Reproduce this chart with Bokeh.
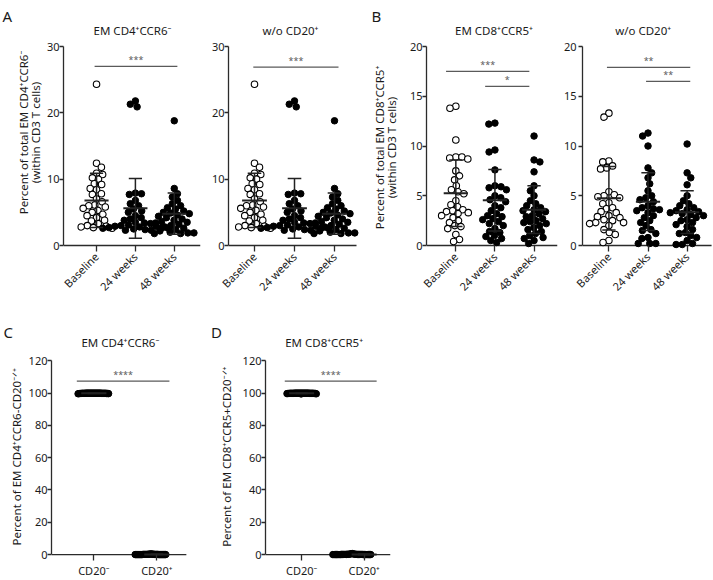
import math
from bokeh.plotting import figure
from bokeh.models import Range1d, FixedTicker, Label, ColumnDataSource
from bokeh.layouts import row, column
from bokeh.embed import file_html
from bokeh.resources import INLINE

FONT = "Noto Sans"
AXC = "#2b2b2b"
TXT = "#1a1a1a"
SIGC = "#5a5a5a"
TICK = 6

# ---------------- data ----------------
weeks = ["Baseline", "24 weeks", "48 weeks"]
cd20 = ["CD20\u207b", "CD20\u207a"]

a1_base = [24.3, 12.4, 11.8, 10.9, 10.7, 10.2, 10.0, 9.3, 9.2, 8.6, 8.4, 7.8, 7.7, 7.0, 6.6, 6.1,
           6.0, 5.8, 5.6, 5.3, 5.0, 4.7, 4.5, 4.2, 3.8, 3.7, 3.3, 3.0, 2.9, 2.8, 2.7, 2.6]
a1_w24 = [21.8, 21.3, 20.9, 7.9, 7.8, 7.7, 6.8, 6.3, 6.0, 5.5, 5.2, 5.0, 4.5, 4.2, 4.0, 3.8,
          3.4, 3.3, 3.1, 3.0, 2.9, 2.8, 2.7, 2.6, 2.6, 2.5, 2.4, 2.3, 2.3, 2.7, 2.9, 3.5]
a1_w48 = [18.8, 8.6, 7.8, 7.3, 6.8, 6.3, 6.0, 5.7, 5.5, 5.2, 5.0, 4.9, 4.8, 4.6, 4.4, 4.2,
          4.0, 3.8, 3.6, 3.5, 3.4, 3.2, 3.0, 2.8, 2.6, 2.4, 2.2, 2.0, 1.9, 1.8, 1.8, 1.9]
a1_mean = [6.8, 5.6, 4.8]
a1_sd = [4.1, 4.5, 3.1]

a2_base = [24.3, 12.4, 11.8, 10.9, 10.7, 10.2, 10.0, 9.3, 9.2, 8.6, 8.4, 7.8, 7.7, 7.0, 6.6, 6.1,
           6.0, 5.8, 5.6, 5.3, 5.0, 4.7, 4.5, 4.2, 3.8, 3.7, 3.3, 3.0, 2.9, 2.8, 2.7, 2.6]
a2_w24 = [21.8, 21.3, 20.9, 7.9, 7.8, 7.7, 6.8, 6.3, 6.0, 5.5, 5.2, 5.0, 4.5, 4.2, 4.0, 3.8,
          3.4, 3.3, 3.1, 3.0, 2.9, 2.8, 2.7, 2.6, 2.6, 2.5, 2.4, 2.3, 2.3, 2.7, 2.9, 3.5]
a2_w48 = [18.8, 8.6, 7.8, 7.3, 6.8, 6.3, 6.0, 5.7, 5.5, 5.2, 5.0, 4.9, 4.8, 4.6, 4.4, 4.2,
          4.0, 3.8, 3.6, 3.5, 3.4, 3.2, 3.0, 2.8, 2.6, 2.4, 2.2, 2.0, 1.9, 1.8, 1.8, 1.9]
a2_mean = [6.8, 5.6, 4.8]
a2_sd = [4.1, 4.5, 3.1]

b1_base = [14.0, 13.8, 10.6, 8.9, 8.9, 8.8, 8.7, 7.5, 7.0, 6.6, 6.0, 5.6, 5.4, 5.2, 4.5, 4.1,
           3.9, 3.6, 3.5, 3.4, 3.3, 3.2, 3.0, 2.8, 2.5, 2.3, 2.0, 1.9, 1.7, 1.1, 0.6, 0.4]
b1_w24 = [12.3, 12.2, 9.6, 9.4, 7.6, 6.0, 5.9, 5.8, 5.6, 5.0, 4.8, 4.6, 4.4, 4.0, 3.8, 3.5,
          3.2, 3.0, 2.9, 2.7, 2.6, 2.4, 2.2, 2.0, 1.7, 1.4, 1.3, 1.0, 0.9, 0.7, 0.5, 0.3]
b1_w48 = [11.0, 8.6, 8.4, 7.4, 6.0, 5.5, 5.0, 4.5, 4.2, 4.0, 3.8, 3.6, 3.5, 3.4, 3.2, 3.0,
          2.9, 2.7, 2.5, 2.4, 2.3, 2.2, 2.0, 1.8, 1.6, 1.4, 1.2, 1.0, 0.8, 0.7, 0.5, 0.2]
b1_mean = [5.25, 4.55, 3.6]
b1_sd = [3.35, 3.1, 2.4]

b2_base = [13.3, 12.9, 8.5, 8.4, 8.0, 7.8, 7.7, 5.4, 5.1, 5.0, 4.9, 4.8, 4.3, 4.2, 3.8, 3.7,
           3.4, 3.3, 3.0, 2.9, 2.8, 2.6, 2.5, 2.3, 2.3, 2.2, 2.0, 1.6, 1.3, 1.1, 0.5, 0.3]
b2_w24 = [11.3, 11.0, 10.0, 7.8, 7.3, 6.8, 6.2, 5.5, 5.0, 4.8, 4.6, 4.4, 4.0, 3.8, 3.7, 3.6,
          3.5, 3.3, 3.0, 2.8, 2.5, 2.3, 2.0, 1.6, 1.5, 1.2, 0.8, 0.7, 0.2, 0.2, 0.2]
b2_w48 = [10.2, 7.3, 6.8, 6.1, 5.0, 4.5, 4.2, 4.0, 3.8, 3.6, 3.5, 3.4, 3.3, 3.2, 3.1, 3.0,
          2.8, 2.6, 2.5, 2.3, 2.1, 1.9, 1.6, 1.3, 1.2, 1.0, 0.8, 0.5, 0.2, 0.1, 0.1]
b2_mean = [4.75, 4.4, 3.35]
b2_sd = [3.2, 2.9, 2.15]

c_neg = [100.0, 100.0, 99.9, 100.0, 99.8, 100.0, 99.9, 100.0, 99.7, 100.0, 99.9, 100.0, 99.8, 100.0, 99.9, 99.6,
         100.0, 99.9, 100.0, 99.8, 100.0, 99.9, 100.0, 99.7, 100.0, 99.9, 100.0, 99.8, 99.9, 100.0, 99.9, 100.0]
c_pos = [0.0, 0.0, 0.1, 0.0, 0.2, 0.0, 0.1, 0.0, 0.3, 0.0, 0.1, 0.0, 0.2, 0.0, 0.1, 0.4,
         0.0, 0.1, 0.0, 0.2, 0.0, 0.1, 0.0, 0.3, 0.0, 0.1, 0.0, 0.2, 0.1, 0.0, 0.1, 0.0]
c_mean = [99.9, 0.1]
c_sd = [0.1, 0.1]

d_neg = [100.0, 99.9, 100.0, 99.8, 100.0, 99.9, 100.0, 99.9, 99.7, 100.0, 99.9, 100.0, 99.8, 100.0, 99.9, 99.5,
         100.0, 99.9, 100.0, 99.8, 100.0, 99.9, 100.0, 99.6, 100.0, 99.9, 100.0, 99.8, 99.9, 100.0, 99.9, 100.0]
d_pos = [0.0, 0.1, 0.0, 0.2, 0.0, 0.1, 0.0, 0.1, 0.3, 0.0, 0.1, 0.0, 0.2, 0.0, 0.1, 0.5,
         0.0, 0.1, 0.0, 0.2, 0.0, 0.1, 0.0, 0.4, 0.0, 0.1, 0.0, 0.2, 0.1, 0.0, 0.1, 0.6]
d_mean = [99.9, 0.1]
d_sd = [0.1, 0.2]

# significance brackets (category units) and labels
a1_sig = dict(x0=[-0.05], x1=[2.08], y=[27.0], text=["***"])
a2_sig = dict(x0=[-0.03], x1=[2.1], y=[26.9], text=["***"])
b1_sig = dict(x0=[-0.25, 0.75], x1=[1.88, 1.88], y=[17.5, 16.0], text=["***", "*"])
b2_sig = dict(x0=[-0.05, 0.95], x1=[2.08, 2.08], y=[17.9, 16.5], text=["**", "**"])
c_sig = dict(x0=[-0.27], x1=[1.2], y=[107.5], text=["****"])
d_sig = dict(x0=[-0.27], x1=[1.2], y=[107.5], text=["****"])

ylab_a = ["Percent of total EM CD4\u207aCCR6\u207b", "(within CD3 T cells)"]
ylab_b = ["Percent of total EM CD8\u207aCCR5\u207a", "(within CD3 T cells)"]
ylab_c = "Percent of EM CD4\u207aCCR6-CD20\u207b\u141f\u207a"
ylab_d = "Percent of EM CD8\u207aCCR5+CD20\u207b\u141f\u207a"


def swarm(vals, ppu_y, ppu_x, dpx, shift=0.0, step=0.25):
    order = sorted(range(len(vals)), key=lambda i: -vals[i])
    placed = []
    offs = [0.0] * len(vals)
    for n, i in enumerate(order):
        y = vals[i] * ppu_y
        k = 0
        found = None
        while found is None:
            if k == 0:
                cands = [0.0]
            else:
                cands = [k * step, -k * step] if n % 2 == 0 else [-k * step, k * step]
            for c in cands:
                if all((c - px) ** 2 + (y - py) ** 2 >= dpx * dpx - 1e-9 for px, py in placed):
                    found = c
                    break
            k += 1
        placed.append((found, y))
        offs[i] = (found + shift) / ppu_x
    return offs


class Frame:
    """A figure whose frame occupies a known page box; maps page pixels to data."""

    def __init__(self, fl, fr, ft, fb, bl, br, bt, bb, C0=0.0, S=1.0, Z=0.0, ppu=1.0, axes=True):
        self.C0, self.S, self.Z, self.ppu = C0, S, Z, ppu
        W = bl + (fr - fl) + br
        H = bt + (fb - ft) + bb
        kw = {} if axes else dict(x_axis_type=None, y_axis_type=None)
        self.p = figure(width=W, height=H,
                        x_range=Range1d(self.dx(fl), self.dx(fr)),
                        y_range=Range1d(self.dy(fb), self.dy(ft)),
                        output_backend="svg", toolbar_location=None,
                        min_border_left=bl, min_border_right=br,
                        min_border_top=bt, min_border_bottom=bb, **kw)
        p = self.p
        p.outline_line_color = None
        p.xgrid.grid_line_color = None
        p.ygrid.grid_line_color = None
        p.background_fill_color = "white"
        p.border_fill_color = "white"

    def dx(self, px):
        return (px - self.C0) / self.S

    def dy(self, py):
        return (self.Z - py) / self.ppu

    def text(self, px, py, txt, size, align="center", baseline="middle", angle=0.0, color=TXT):
        self.p.add_layout(Label(x=self.dx(px), y=self.dy(py), text=txt, angle=angle,
                                text_align=align, text_baseline=baseline, text_font=FONT,
                                text_font_size=size, text_color=color))

    def letter(self, px, py, txt):
        self.text(px, py, txt, "15px", align="left", baseline="alphabetic")

    def ytitle(self, px_base, py_center, txt):
        self.text(px_base, py_center, txt, "11.5px", align="center", baseline="alphabetic",
                  angle=math.pi / 2)


def panel(fr, spec):
    p = fr.p
    ymax = spec["ymax"]
    # y axis
    ya = p.yaxis[0]
    ya.ticker = FixedTicker(ticks=spec["yticks"], minor_ticks=[])
    ya.bounds = (0, ymax)
    ya.axis_line_color = AXC
    ya.axis_line_width = 1.3
    ya.major_tick_line_color = AXC
    ya.major_tick_line_width = 1.3
    ya.major_tick_out = 4
    ya.major_tick_in = 0
    ya.major_label_standoff = spec.get("ystand", 0)
    ya.major_label_text_font = FONT
    ya.major_label_text_font_size = "11px"
    ya.major_label_text_color = TXT

    # x axis
    cats = spec["cats"]
    xa = p.xaxis[0]
    xa.ticker = FixedTicker(ticks=list(range(len(cats))), minor_ticks=[])
    xa.major_label_overrides = {i: c for i, c in enumerate(cats)}
    xa.axis_line_color = None
    xa.major_tick_line_color = AXC
    xa.major_tick_line_width = 1.3
    xa.major_tick_in = TICK
    xa.major_tick_out = 0
    xa.major_label_standoff = spec.get("xstand", 3)
    xa.major_label_text_font = FONT
    xa.major_label_text_font_size = "11px"
    xa.major_label_text_color = TXT
    if spec.get("rot"):
        xa.major_label_orientation = math.pi / 4

    # x axis baseline from the y axis to the axis end
    xr = p.x_range
    p.segment(x0=[xr.start], x1=[fr.dx(spec["xend"])], y0=[0], y1=[0], line_color=AXC, line_width=1.3)

    # points
    for gi, vals in enumerate(spec["groups"]):
        offs = swarm(vals, fr.ppu, fr.S, spec["dpx"][gi], spec["shift"][gi])
        src = ColumnDataSource(dict(x=[gi + o for o in offs], y=vals))
        if spec["open"][gi]:
            p.scatter("x", "y", source=src, size=6.5, marker="circle", fill_color="white",
                      line_color="black", line_width=1.1)
        else:
            p.scatter("x", "y", source=src, size=6.5, marker="circle", fill_color="black",
                      line_color="black", line_width=1.0)

    # mean and SD
    mean, sd = spec["mean"], spec["sd"]
    n = len(mean)
    mw, cw = spec["mw"], spec["cw"]
    lo = [m - s for m, s in zip(mean, sd)]
    hi = [m + s for m, s in zip(mean, sd)]
    p.segment(x0=[i - mw for i in range(n)], x1=[i + mw for i in range(n)], y0=mean, y1=mean,
              line_color="#222222", line_width=2.0)
    p.segment(x0=list(range(n)), x1=list(range(n)), y0=lo, y1=hi, line_color="#222222", line_width=1.5)
    p.segment(x0=[i - cw for i in range(n)] * 2, x1=[i + cw for i in range(n)] * 2,
              y0=lo + hi, y1=lo + hi, line_color="#222222", line_width=1.5)

    # significance
    sig = spec["sig"]
    p.segment(x0=sig["x0"], x1=sig["x1"], y0=sig["y"], y1=sig["y"], line_color=SIGC, line_width=1.3)
    for a, b, y, t in zip(sig["x0"], sig["x1"], sig["y"], sig["text"]):
        p.add_layout(Label(x=(a + b) / 2, y=y, text=t, text_align="center", text_baseline="bottom",
                           text_font=FONT, text_font_size="9px", text_color=SIGC))

    # title
    tx, ty = spec["title_at"]
    fr.text(tx, ty, spec["title"], "11.5px")
    return p


# ---- geometry (page pixels) ----
TOP = dict(ft=0, fb=251, bt=0, bb=54)
Z_TOP = 245
PPU_A = 199 / 30
PPU_B = 199 / 20
BOT = dict(ft=305, fb=563, bt=0, bb=17)
Z_BOT = 557
PPU_C = 196 / 120

common_top = dict(rot=True, cats=weeks, mw=0.31, cw=0.17, dpx=[6.2, 6.2, 6.2], shift=[0, 0, 0],
                  open=[True, False, False])
common_bot = dict(rot=False, cats=cd20, mw=0.2, cw=0.1, open=[False, False],
                  ymax=120, yticks=[0, 20, 40, 60, 80, 100, 120], xstand=2, ystand=0)

# top row
fA0 = Frame(0, 43, bl=0, br=0, axes=False, **TOP)
fA0.letter(2, 15.5, "A")
fA0.ytitle(22.5, 132, ylab_a[0])
fA0.ytitle(35, 132, ylab_a[1])

fA1 = Frame(59, 200, bl=16, br=4, C0=93, S=40, Z=Z_TOP, ppu=PPU_A, **TOP)
panel(fA1, dict(common_top, ymax=30, yticks=[0, 10, 20, 30], xend=200,
                groups=[a1_base, a1_w24, a1_w48], mean=a1_mean, sd=a1_sd, sig=a1_sig,
                title="EM CD4\u207aCCR6\u207b", title_at=(130, 30)))

fA2 = Frame(227, 405, bl=24, br=0, C0=253, S=40, Z=Z_TOP, ppu=PPU_A, **TOP)
panel(fA2, dict(common_top, ymax=30, yticks=[0, 10, 20, 30], xend=355,
                groups=[a2_base, a2_w24, a2_w48], mean=a2_mean, sd=a2_sd, sig=a2_sig,
                title="w/o CD20\u207a", title_at=(289, 30)))
fA2.letter(370, 15.5, "B")
fA2.ytitle(377.5, 147, ylab_b[0])
fA2.ytitle(390, 147, ylab_b[1])

fB1 = Frame(422, 556, bl=17, br=3, C0=452, S=40, Z=Z_TOP, ppu=PPU_B, **TOP)
panel(fB1, dict(common_top, ymax=20, yticks=[0, 5, 10, 15, 20], xend=556,
                groups=[b1_base, b1_w24, b1_w48], mean=b1_mean, sd=b1_sd, sig=b1_sig,
                title="EM CD8\u207aCCR5\u207a", title_at=(491, 30)))

fB2 = Frame(578, 713, bl=19, br=0, C0=605, S=40, Z=Z_TOP, ppu=PPU_B, **TOP)
panel(fB2, dict(common_top, ymax=20, yticks=[0, 5, 10, 15, 20], xend=710, ystand=2,
                groups=[b2_base, b2_w24, b2_w48], mean=b2_mean, sd=b2_sd, sig=b2_sig,
                title="w/o CD20\u207a", title_at=(640, 30)))

# bottom row
fC0 = Frame(0, 25, bl=0, br=0, axes=False, **BOT)
fC0.letter(3, 332, "C")
fC0.ytitle(16, 458, ylab_c)

fC = Frame(48, 239, bl=23, br=0, C0=91, S=64, Z=Z_BOT, ppu=PPU_C, **BOT)
panel(fC, dict(common_bot, xend=185, groups=[c_neg, c_pos], mean=c_mean, sd=c_sd, sig=c_sig,
               dpx=[0.9, 0.95], shift=[0, -6],
               title="EM CD4\u207aCCR6\u207b", title_at=(118, 342)))
fC.letter(210, 332, "D")
fC.ytitle(225.5, 458, ylab_d)

fD = Frame(262, 390, bl=23, br=10, C0=299, S=64, Z=Z_BOT, ppu=PPU_C, **BOT)
panel(fD, dict(common_bot, xend=390, groups=[d_neg, d_pos], mean=d_mean, sd=d_sd, sig=d_sig,
               dpx=[0.9, 1.25], shift=[0, -12],
               title="EM CD8\u207aCCR5\u207a", title_at=(322, 342)))

layout = column(row(fA0.p, fA1.p, fA2.p, fB1.p, fB2.p), row(fC0.p, fC.p, fD.p))
open("out.html", "w").write(file_html(layout, INLINE))
